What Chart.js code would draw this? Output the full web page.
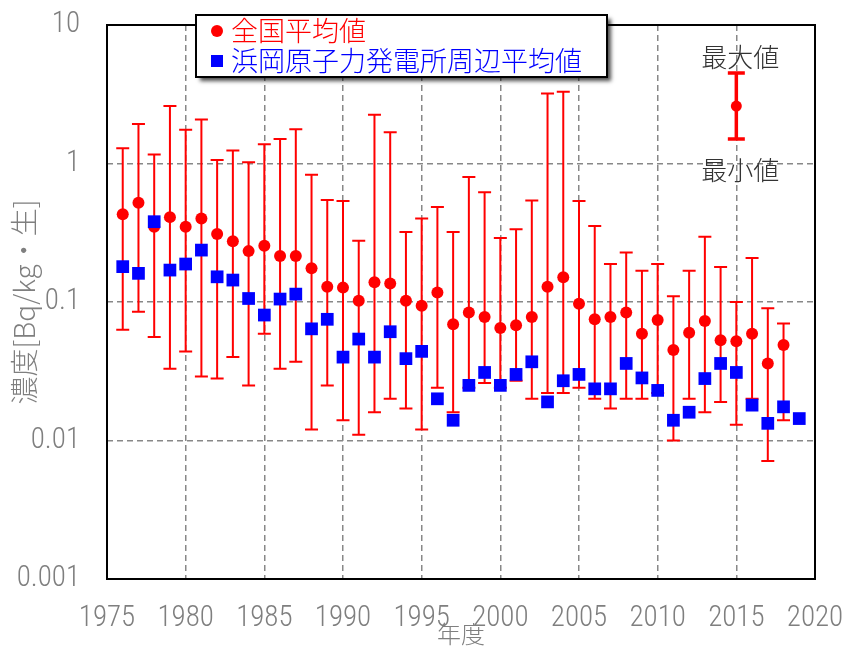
<!DOCTYPE html>
<html><head><meta charset="utf-8">
<script src="https://cdn.jsdelivr.net/npm/chart.js@4/dist/chart.umd.min.js"></script>
<style>html,body{margin:0;padding:0;background:#fff}#wrap{width:845px;height:648px}</style>
</head><body><div id="wrap"><canvas id="c" width="845" height="648"></canvas></div>
<script>
// ---- data ----
const years = [1976,1977,1978,1979,1980,1981,1982,1983,1984,1985,1986,1987,1988,1989,1990,1991,1992,1993,1994,1995,1996,1997,1998,1999,2000,2001,2002,2003,2004,2005,2006,2007,2008,2009,2010,2011,2012,2013,2014,2015,2016,2017,2018];
const nationalMean = [0.43,0.52,0.35,0.41,0.35,0.40,0.31,0.275,0.233,0.255,0.215,0.215,0.175,0.129,0.127,0.102,0.139,0.136,0.102,0.094,0.117,0.069,0.084,0.078,0.065,0.068,0.078,0.129,0.151,0.097,0.075,0.078,0.084,0.059,0.074,0.045,0.060,0.073,0.053,0.052,0.059,0.036,0.049];
const nationalMax = [1.29,1.93,1.16,2.6,1.75,2.08,1.06,1.24,1.02,1.38,1.5,1.77,0.83,0.545,0.536,0.277,2.25,1.68,0.32,0.40,0.485,0.32,0.80,0.62,0.29,0.335,0.54,3.2,3.3,0.536,0.354,0.188,0.228,0.168,0.188,0.11,0.168,0.296,0.179,0.10,0.208,0.09,0.07];
const nationalMin = [0.063,0.085,0.056,0.033,0.044,0.029,0.028,0.040,0.025,0.059,0.033,0.037,0.012,0.025,0.014,0.011,0.016,0.020,0.017,0.012,0.024,0.016,0.024,0.026,0.024,0.027,0.020,0.022,0.022,0.024,0.020,0.017,0.020,0.020,0.022,0.010,0.020,0.016,0.019,0.013,0.020,0.0071,0.014];
const hamaokaYears = [1976,1977,1978,1979,1980,1981,1982,1983,1984,1985,1986,1987,1988,1989,1990,1991,1992,1993,1994,1995,1996,1997,1998,1999,2000,2001,2002,2003,2004,2005,2006,2007,2008,2009,2010,2011,2012,2013,2014,2015,2016,2017,2018,2019];
const hamaokaMean = [0.18,0.161,0.38,0.17,0.188,0.237,0.152,0.144,0.106,0.0805,0.105,0.114,0.064,0.075,0.040,0.054,0.040,0.061,0.039,0.044,0.020,0.014,0.025,0.031,0.025,0.030,0.037,0.019,0.027,0.030,0.0236,0.0236,0.036,0.0283,0.023,0.014,0.016,0.028,0.036,0.031,0.018,0.0133,0.0175,0.0144];
// sample error bar (explanation key)
const sampleYear = [2015];
const sampleMean = [2.6];
const sampleMax = [4.5];
const sampleMin = [1.5];
const seriesLabels = ['全国平均値','浜岡原子力発電所周辺平均値'];
const sampleLabels = ['最大値','最小値'];
const xTickValues = [1975,1980,1985,1990,1995,2000,2005,2010,2015,2020];
const yTickValues = [0.001,0.01,0.1,1,10];
const yTickLabels = ['0.001','0.01','0.1','1','10'];
const xTitle = '年度';
const yTitle = '濃度[Bq/kg・生]';

const RED = '#ff0000', BLUE = '#0000ff';
const JP = "'Noto Sans CJK JP','Noto Sans',sans-serif";
const NUM = "'Roboto Condensed','Open Sans Condensed','Noto Sans',sans-serif";

const toPts = (xs, ys) => xs.map((x, i) => ({x: x, y: ys[i]}));

const errorBarPlugin = {
  id: 'errbars',
  beforeDatasetsDraw(chart) {
    const ctx = chart.ctx, xs = chart.scales.x, ys = chart.scales.y;
    chart.data.datasets.forEach((ds) => {
      if (!ds.errMax) return;
      ctx.save();
      ctx.strokeStyle = ds.errColor;
      ctx.lineWidth = ds.errWidth;
      ctx.lineCap = 'butt';
      const cap = ds.errCap;
      ds.data.forEach((p, j) => {
        const x = xs.getPixelForValue(p.x);
        const yt = ys.getPixelForValue(ds.errMax[j]);
        const yb = ys.getPixelForValue(ds.errMin[j]);
        ctx.beginPath();
        ctx.moveTo(x, yt); ctx.lineTo(x, yb);
        ctx.moveTo(x - cap, yt); ctx.lineTo(x + cap, yt);
        ctx.moveTo(x - cap, yb); ctx.lineTo(x + cap, yb);
        ctx.stroke();
      });
      ctx.restore();
    });
  }
};

const framePlugin = {
  id: 'frame',
  afterDraw(chart) {
    const ctx = chart.ctx, a = chart.chartArea;
    ctx.save();
    ctx.strokeStyle = '#000';
    ctx.lineWidth = 2;
    ctx.strokeRect(a.left, a.top, a.right - a.left, a.bottom - a.top);
    // sample labels
    const xs = chart.scales.x, ys = chart.scales.y;
    const sx = xs.getPixelForValue(sampleYear[0]);
    ctx.fillStyle = '#333';
    ctx.font = "300 26px " + JP;
    ctx.textAlign = 'center';
    ctx.textBaseline = 'middle';
    ctx.fillText(sampleLabels[0], sx + 4, ys.getPixelForValue(sampleMax[0]) - 16);
    ctx.fillText(sampleLabels[1], sx + 4, ys.getPixelForValue(sampleMin[0]) + 31);
    // legend box
    const bx = 196, by = 15, bw = 411, bh = 62;
    ctx.save();
    ctx.shadowColor = 'rgba(0,0,0,0.7)';
    ctx.shadowBlur = 4;
    ctx.shadowOffsetX = 4;
    ctx.shadowOffsetY = 4;
    ctx.fillStyle = '#fff';
    ctx.fillRect(bx, by, bw, bh);
    ctx.restore();
    ctx.lineWidth = 2;
    ctx.strokeStyle = '#000';
    ctx.strokeRect(bx, by, bw, bh);
    const dsets = chart.data.datasets;
    ctx.textAlign = 'left';
    ctx.font = "300 27px " + JP;
    ctx.fillStyle = dsets[0].backgroundColor;
    ctx.beginPath(); ctx.arc(217, 31, 6, 0, Math.PI * 2); ctx.fill();
    ctx.fillText(dsets[0].label, 231, 31);
    ctx.fillStyle = dsets[1].backgroundColor;
    ctx.fillRect(211, 55, 12, 12);
    ctx.fillText(dsets[1].label, 231, 61);
    ctx.restore();
  }
};

const chart = new Chart(document.getElementById('c'), {
  type: 'scatter',
  data: {
    datasets: [
      {
        label: seriesLabels[0],
        data: toPts(years, nationalMean),
        errMax: nationalMax, errMin: nationalMin,
        errColor: RED, errWidth: 2, errCap: 6.5,
        backgroundColor: RED, borderColor: RED, borderWidth: 0,
        pointStyle: 'circle', pointRadius: 6, order: 2
      },
      {
        label: seriesLabels[1],
        data: toPts(hamaokaYears, hamaokaMean),
        backgroundColor: BLUE, borderColor: BLUE, borderWidth: 0,
        pointStyle: 'rect', pointRadius: 9, order: 1
      },
      {
        label: 'sample',
        data: toPts(sampleYear, sampleMean),
        errMax: sampleMax, errMin: sampleMin,
        errColor: RED, errWidth: 3.5, errCap: 8.5,
        backgroundColor: RED, borderColor: RED, borderWidth: 0,
        pointStyle: 'circle', pointRadius: 5.5, order: 3
      }
    ]
  },
  options: {
    responsive: false,
    animation: false,
    events: [],
    layout: { autoPadding: false, padding: { left: 0, top: 25, right: 30, bottom: 0 } },
    plugins: { legend: { display: false }, tooltip: { enabled: false }, title: { display: false } },
    scales: {
      x: {
        type: 'linear', min: 1975, max: 2020,
        afterBuildTicks: s => { s.ticks = xTickValues.map(v => ({value: v})); },
        afterFit: s => { s.height = 69; s.paddingLeft = 0; s.paddingRight = 0; },
        ticks: { autoSkip: false, maxRotation: 0, padding: 22, color: '#7f7f7f',
                 font: { family: NUM, size: 29, weight: '300' }, callback: v => String(v) },
        grid: { drawTicks: false, lineWidth: 1.5,
                color: c => (c.tick && (c.tick.value === 1975 || c.tick.value === 2020)) ? 'rgba(0,0,0,0)' : '#888',
                borderDash: [6, 4] },
        border: { display: false, dash: [6, 4] },
        title: { display: true, text: xTitle, color: '#7f7f7f', padding: { top: 0, bottom: 0 },
                 font: { family: JP, size: 24, weight: '300' } }
      },
      y: {
        type: 'logarithmic', min: 0.001, max: 10,
        afterBuildTicks: s => { s.ticks = yTickValues.map(v => ({value: v})); },
        afterFit: s => { s.width = 107; s.paddingTop = 0; s.paddingBottom = 0; },
        ticks: { autoSkip: false, padding: 27, color: '#7f7f7f',
                 font: { family: NUM, size: 29, weight: '300' },
                 callback: (v) => { const k = yTickValues.indexOf(v); return k >= 0 ? yTickLabels[k] : ''; } },
        grid: { drawTicks: false, lineWidth: 1.5,
                color: c => (c.tick && (c.tick.value === 0.001 || c.tick.value === 10)) ? 'rgba(0,0,0,0)' : '#888',
                borderDash: [6, 4] },
        border: { display: false, dash: [6, 4] },
        title: { display: true, text: yTitle, color: '#7f7f7f', padding: { top: 8, bottom: 0 },
                 font: { family: JP, size: 28, weight: '300' } }
      }
    }
  },
  plugins: [errorBarPlugin, framePlugin]
});
</script>
</body></html>
